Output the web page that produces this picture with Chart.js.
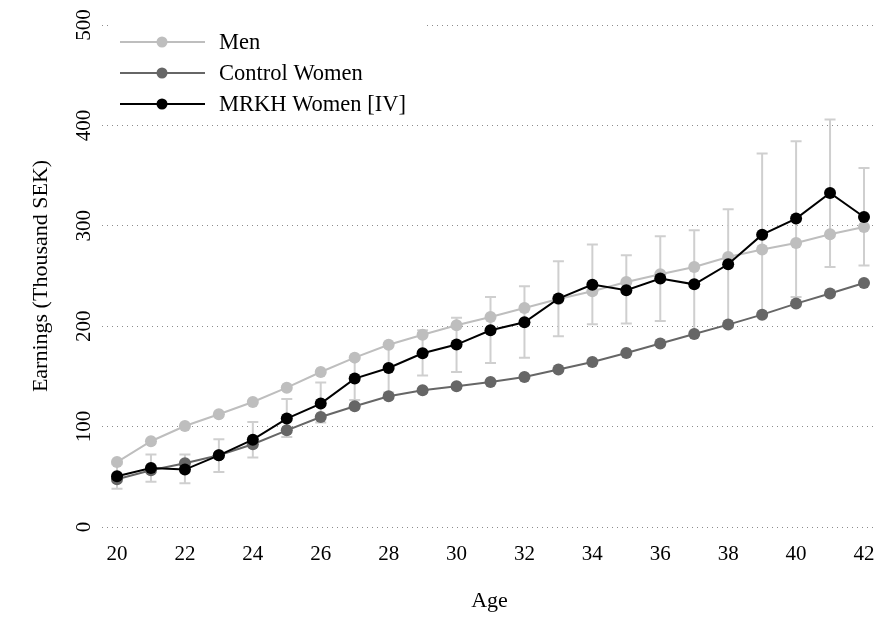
<!DOCTYPE html>
<html>
<head>
<meta charset="utf-8">
<script src="https://cdn.jsdelivr.net/npm/chart.js@4/dist/chart.umd.min.js"></script>
<style>
  html, body { margin: 0; padding: 0; background: #ffffff; }
  #wrap { width: 894px; height: 623px; position: relative; }
</style>
</head>
<body>
<div id="wrap"><canvas id="c"></canvas></div>
<script>
// ---- data ----
const ages = [20,21,22,23,24,25,26,27,28,29,30,31,32,33,34,35,36,37,38,39,40,41,42];
const seriesNames = ["Men", "Control Women", "MRKH Women [IV]"];
const menEarnings = [64.7,85.4,100.6,112.3,124.5,138.8,154.4,168.7,181.5,191.5,200.9,209.2,218.1,227,234.8,244,251.7,259,269,276.3,282.9,291.5,298.8];
const controlEarnings = [47.5,56.5,63.5,71.4,82.4,96.3,109.6,120.2,130.2,136.2,140.1,144.5,149.4,156.8,164.4,173.3,182.7,192.3,201.6,211.5,222.5,232.5,243];
const mrkhEarnings = [50.5,58.8,57.2,71.4,87,108,122.9,147.8,158.4,173,181.7,195.9,203.9,227.5,241.4,235.8,247.4,241.7,261.7,291.2,307.2,332.7,308.8];
const mrkhLower = [38.2,45,43.5,54.8,69.1,89.6,104,126.5,134,151,154.4,163.4,168.7,189.9,201.9,202.6,205.2,191,199,210,229.1,259,260.4];
const mrkhUpper = [62.5,72.2,72.2,87.3,104.6,127.5,143.8,168,182,195.9,208.5,229.1,239.7,264.6,281.3,270.6,289.5,295.5,316.4,371.9,384.2,405.8,357.6];
const xTickValues = [20,22,24,26,28,30,32,34,36,38,40,42];
const yTickValues = [0,100,200,300,400,500];

// ---- styles ----
const FONT = "'Liberation Serif', 'Times New Roman', serif";
const colMen = '#bebebe';
const colControl = '#666666';
const colMrkh = '#000000';
const colErr = '#cfcfcf';

Chart.defaults.font.family = FONT;
Chart.defaults.font.size = 21;
Chart.defaults.color = '#000000';

function toXY(values) {
  return ages.map((a, i) => ({ x: a, y: values[i] }));
}

const errorBarPlugin = {
  id: 'errorBars',
  beforeDatasetsDraw(chart) {
    const { ctx, scales: { x, y } } = chart;
    ctx.save();
    ctx.strokeStyle = colErr;
    ctx.lineWidth = 2;
    const cap = 5.5;
    ages.forEach((a, i) => {
      const px = x.getPixelForValue(a);
      const lo = y.getPixelForValue(mrkhLower[i]);
      const hi = y.getPixelForValue(mrkhUpper[i]);
      ctx.beginPath();
      ctx.moveTo(px, lo); ctx.lineTo(px, hi);
      ctx.moveTo(px - cap, lo); ctx.lineTo(px + cap, lo);
      ctx.moveTo(px - cap, hi); ctx.lineTo(px + cap, hi);
      ctx.stroke();
    });
    ctx.restore();
  }
};

const legendPlugin = {
  id: 'insideLegend',
  beforeDatasetsDraw(chart) {
    const { ctx, chartArea } = chart;
    const left = chartArea.left;
    const top = chartArea.top;
    ctx.save();
    ctx.fillStyle = '#ffffff';
    ctx.fillRect(left + 7, top - 6, 318, 100);
    chart.data.datasets.forEach((ds, i) => {
      const yy = top + 17 + i * 31;
      ctx.strokeStyle = ds.borderColor;
      ctx.lineWidth = 2;
      ctx.beginPath();
      ctx.moveTo(left + 18, yy);
      ctx.lineTo(left + 103, yy);
      ctx.stroke();
      ctx.fillStyle = ds.pointBackgroundColor;
      ctx.beginPath();
      ctx.arc(left + 60, yy, 5.5, 0, Math.PI * 2);
      ctx.fill();
      ctx.fillStyle = '#000000';
      ctx.font = "22.5px " + FONT;
      ctx.textAlign = 'left';
      ctx.textBaseline = 'middle';
      ctx.fillText(ds.label, left + 117, yy + 1);
    });
    ctx.restore();
  }
};

const mkDs = (label, values, color, order) => ({
  label,
  data: toXY(values),
  borderColor: color,
  backgroundColor: color,
  pointBackgroundColor: color,
  pointBorderColor: color,
  pointRadius: 6,
  pointBorderWidth: 0,
  pointHoverRadius: 6,
  borderWidth: 2,
  tension: 0,
  order
});

new Chart(document.getElementById('c'), {
  type: 'line',
  data: {
    datasets: [
      mkDs(seriesNames[0], menEarnings, colMen, 1),
      mkDs(seriesNames[1], controlEarnings, colControl, 2),
      mkDs(seriesNames[2], mrkhEarnings, colMrkh, 0)
    ]
  },
  options: {
    responsive: true,
    maintainAspectRatio: false,
    animation: false,
    layout: { padding: { top: 25, right: 17, bottom: 0, left: 0 } },
    plugins: {
      legend: { display: false },
      tooltip: { enabled: false }
    },
    scales: {
      x: {
        type: 'linear',
        min: 19.558,
        max: 42.383,
        grid: { display: false, drawTicks: false },
        border: { display: false },
        afterBuildTicks(scale) { scale.ticks = xTickValues.map(v => ({ value: v })); },
        afterFit(scale) { scale.height = 96; },
        ticks: { padding: 15, maxRotation: 0, minRotation: 0, font: { size: 21 }, color: '#000' },
        title: { display: true, text: 'Age', font: { size: 22 }, color: '#000', padding: { top: 0, bottom: 9 } }
      },
      y: {
        min: 0,
        max: 500,
        afterBuildTicks(scale) { scale.ticks = yTickValues.map(v => ({ value: v })); },
        afterFit(scale) { scale.width = 102; },
        grid: { color: '#8c8c8c', lineWidth: 1, drawTicks: false },
        border: { display: false, dash: [1, 4] },
        ticks: { padding: 2, minRotation: 90, maxRotation: 90, crossAlign: 'center', font: { size: 21 }, color: '#000' },
        title: { display: true, text: 'Earnings (Thousand SEK)', font: { size: 22 }, color: '#000', padding: { top: 28, bottom: 0 } }
      }
    }
  },
  plugins: [errorBarPlugin, legendPlugin]
});
</script>
</body>
</html>
